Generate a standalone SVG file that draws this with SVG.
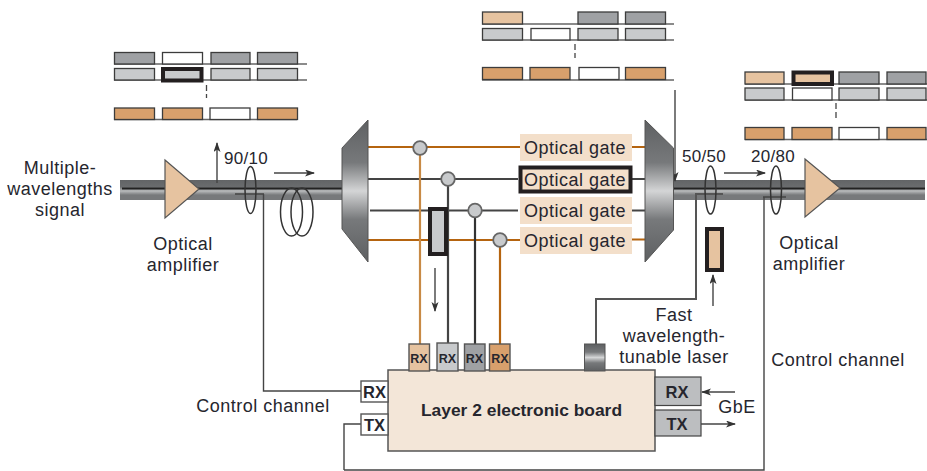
<svg xmlns="http://www.w3.org/2000/svg" width="927" height="471" viewBox="0 0 927 471">
<style>
text{font-family:"Liberation Sans",Arial,sans-serif;fill:#26262e;font-size:18px;letter-spacing:.5px;text-anchor:middle}
.b{font-weight:700;font-size:17.400px;letter-spacing:0}
.r{font-size:16.500px;font-weight:700;letter-spacing:0}
.c{font-size:17px;letter-spacing:.3px}
.s{font-size:12.500px;font-weight:700;letter-spacing:0}
.sl{stroke:#3c3c3c;stroke-width:1.3}
.ln{stroke:#666;stroke-width:1.5;fill:none}
.g1{fill:#9fa1a4}.g2{fill:#c8cacc}.w{fill:#fff}.o{fill:#d8a06c}.p{fill:#e6c3a0}
.thick{stroke:#231f20;stroke-width:4}
.br{stroke:#b5640f;stroke-width:2.2;fill:none}
.dk{stroke:#444;stroke-width:2.2;fill:none}
.wire{stroke:#444;stroke-width:1.4;fill:none}
.ring{fill:none;stroke:#333;stroke-width:1.5}
.gate{fill:#f3dfca}
.dot{fill:#c8cacc;stroke:#666;stroke-width:1.8}
.box{stroke:#555;stroke-width:1.4}
.dash{stroke:#444;stroke-width:1.3;stroke-dasharray:6 3;fill:none}
.amp{fill:#e6c3a0;stroke:#555;stroke-width:1.2}
</style>
<defs>
<linearGradient id="metal" x1="0" y1="0" x2="0" y2="1"><stop offset="0" stop-color="#5e6062"/><stop offset=".3" stop-color="#77797b"/><stop offset=".5" stop-color="#d4d5d6"/><stop offset=".7" stop-color="#77797b"/><stop offset="1" stop-color="#5e6062"/></linearGradient>
<linearGradient id="fiber" x1="0" y1="0" x2="0" y2="1"><stop offset="0" stop-color="#626466"/><stop offset=".35" stop-color="#6a6c6e"/><stop offset=".55" stop-color="#b8babb"/><stop offset=".75" stop-color="#77797b"/><stop offset="1" stop-color="#77797b"/></linearGradient>
<marker id="ah" markerWidth="10" markerHeight="8" refX="9" refY="3.5" orient="auto" markerUnits="userSpaceOnUse"><path d="M0 0L10 3.5L0 7L2.5 3.5Z" fill="#333"/></marker>
</defs>

<g id="fibers">
<rect x="120" y="180" width="222" height="20" fill="url(#fiber)"/>
<rect x="673" y="180" width="252" height="20" fill="url(#fiber)"/>
<path d="M122 188.500H342M673 188.500H925" stroke="#222" stroke-width="1.800" fill="none"/>
</g>

<g id="connectors">
<path class="br" d="M368 147H520M368 240H520M632 147H645M632 239.500H645"/>
<path class="dk" d="M368 179H518M370 210.500H518M632 179H645M632 210.500H645"/>
<path d="M420 148V345" stroke="#c88a45" stroke-width="2.200" fill="none"/>
<path class="dk" d="M448 179V345" stroke="#555"/>
<path d="M475 210V348" stroke="#333" stroke-width="2.200" fill="none"/>
<path class="br" d="M500 240V345"/>
<path class="wire" stroke-width="1.400" d="M235 194H264M263.500 194V391H361"/>
<path class="wire" d="M344 470V424H361M344 470H764V197M763 197H786"/>
<path d="M695 194H723M696 194V299H596V344" stroke="#555" stroke-width="2" fill="none"/>
<path class="wire" marker-end="url(#ah)" d="M217 183V143"/>
<path class="wire" marker-end="url(#ah)" d="M274 173H314"/>
<path class="wire" marker-end="url(#ah)" d="M435 268V311"/>
<path class="wire" marker-end="url(#ah)" d="M675 90V181"/>
<path class="wire" marker-end="url(#ah)" d="M724 173H765"/>
<path class="wire" marker-end="url(#ah)" d="M713 306V275"/>
<path class="wire" marker-end="url(#ah)" d="M735 392H702"/>
<path class="wire" marker-end="url(#ah)" d="M701 424H735"/>
</g>

<g id="slots-left">
<path class="ln" d="M114 64H307M114 80H307M114 119.500H297"/>
<g class="sl">
<rect class="g1" x="114.500" y="52.500" width="40" height="11.500"/><rect class="w" x="162.500" y="52.500" width="40" height="11.500"/><rect class="g1" x="211" y="52.500" width="39" height="11.500"/><rect class="g1" x="257.500" y="52.500" width="40" height="11.500"/>
<rect class="g2" x="114.500" y="68.500" width="40" height="11.500"/><rect class="g2" x="211" y="68.500" width="39" height="11.500"/><rect class="g2" x="257.500" y="68.500" width="40" height="11.500"/>
<rect class="o" x="114.500" y="108" width="40" height="11.500"/><rect class="o" x="162.500" y="108" width="40" height="11.500"/><rect class="w" x="210" y="108" width="40" height="11.500"/><rect class="o" x="257.500" y="108" width="40" height="11.500"/>
</g>
<rect class="g2 thick" x="163" y="69" width="38.500" height="11.500"/>
<path class="dash" d="M206.500 85V98"/>
</g>

<g id="slots-middle">
<path class="ln" d="M482 24H674M482 40H674M482 80H674"/>
<g class="sl">
<rect class="p" x="482.500" y="12" width="40" height="12"/><rect class="g1" x="578" y="12" width="40" height="12"/><rect class="g1" x="625.500" y="12" width="40" height="12"/>
<rect class="g2" x="482.500" y="28.500" width="40" height="11.500"/><rect class="w" x="531" y="28.500" width="39" height="11.500"/><rect class="g2" x="578" y="28.500" width="40" height="11.500"/><rect class="g2" x="625.500" y="28.500" width="40" height="11.500"/>
<rect class="o" x="482.500" y="67.500" width="40" height="12"/><rect class="o" x="530" y="67.500" width="40" height="12"/><rect class="w" x="579" y="67.500" width="40" height="12"/><rect class="o" x="625.500" y="67.500" width="40" height="12"/>
</g>
<path class="dash" d="M575 44V58"/>
</g>

<g id="slots-right">
<path class="ln" d="M745 84H927M745 100H927M745 139.500H927"/>
<g class="sl">
<rect class="p" x="745" y="72" width="39" height="12"/><rect class="g1" x="839" y="72" width="40" height="12"/><rect class="g1" x="887" y="72" width="39" height="12"/>
<rect class="g2" x="745" y="88" width="39" height="12"/><rect class="w" x="792.500" y="88" width="39.500" height="12"/><rect class="g2" x="839" y="88" width="40" height="12"/><rect class="g2" x="887" y="88" width="39" height="12"/>
<rect class="o" x="745" y="127.500" width="39" height="12"/><rect class="o" x="792" y="127.500" width="40" height="12"/><rect class="w" x="839" y="127.500" width="40" height="12"/><rect class="o" x="887" y="127.500" width="39" height="12"/>
</g>
<rect class="p thick" x="793.500" y="72.500" width="38.500" height="11.500"/>
<path class="dash" d="M836 103V118"/>
</g>

<g id="amp-in"><path class="amp" d="M165 160L199 189L165 218Z"/></g>
<g id="amp-out"><path class="amp" d="M805 159L840 188L805 217Z"/></g>

<g id="coupler-90-10"><ellipse class="ring" cx="250.500" cy="190" rx="5.500" ry="23.500"/><text class="c" x="246" y="164">90/10</text></g>
<g id="fiber-coil"><ellipse class="ring" cx="291.500" cy="212" rx="11" ry="24"/><ellipse class="ring" cx="302" cy="212" rx="11" ry="24"/></g>
<g id="coupler-50-50"><ellipse class="ring" cx="710.500" cy="190" rx="5.500" ry="24"/><text class="c" x="704" y="162">50/50</text></g>
<g id="coupler-20-80"><ellipse class="ring" cx="776" cy="190" rx="5.500" ry="24"/><text class="c" x="773" y="162">20/80</text></g>

<g id="demux"><path d="M342 148L368 120V262L342 229Z" fill="url(#metal)" stroke="#555" stroke-width="1"/></g>
<g id="mux"><path d="M645 120L673.500 148V230L645 262Z" fill="url(#metal)" stroke="#555" stroke-width="1"/></g>

<g id="taps">
<circle class="dot" cx="420" cy="148" r="6.800"/><circle class="dot" cx="448" cy="179" r="6.800"/><circle class="dot" cx="475" cy="210.500" r="6.800"/><circle class="dot" cx="500" cy="240" r="6.800"/>
</g>
<g id="filter"><rect class="g2 thick" x="430" y="209" width="16" height="45"/></g>

<g id="gate-1"><rect class="gate" x="520" y="134" width="112" height="27"/><text x="575" y="153.500">Optical gate</text></g>
<g id="gate-2"><rect class="gate thick" x="520.500" y="167.500" width="110" height="24"/><text x="575" y="185.500">Optical gate</text></g>
<g id="gate-3"><rect class="gate" x="520" y="197" width="112" height="27"/><text x="575" y="216.500">Optical gate</text></g>
<g id="gate-4"><rect class="gate" x="520" y="227" width="112" height="27"/><text x="575" y="246.500">Optical gate</text></g>

<g id="tunable-filter"><rect class="p thick" x="707" y="229" width="15" height="41"/></g>

<g id="board"><rect x="388" y="370" width="267" height="81" fill="#f3e6d8" stroke="#555" stroke-width="1.500"/><text class="b" x="521.500" y="416">Layer 2 electronic board</text></g>
<g id="rx-1"><rect class="p box" x="409" y="344" width="20.500" height="27"/><text class="s" x="419" y="363">RX</text></g>
<g id="rx-2"><rect class="g2 box" x="437" y="343" width="21" height="28"/><text class="s" x="447.500" y="363">RX</text></g>
<g id="rx-3"><rect class="g1 box" x="464.500" y="344" width="20.500" height="27"/><text class="s" x="474.500" y="363">RX</text></g>
<g id="rx-4"><rect class="o box" x="489.500" y="344" width="20.500" height="27"/><text class="s" x="500" y="363">RX</text></g>
<g id="laser"><rect x="584.500" y="344" width="20.500" height="27" fill="url(#metal)" stroke="#555"/></g>
<g id="ctrl-rx"><rect class="w box" x="361" y="381" width="27" height="21"/><text class="r" x="374.500" y="398">RX</text></g>
<g id="ctrl-tx"><rect class="w box" x="361" y="414" width="27" height="21"/><text class="r" x="374.500" y="430.500">TX</text></g>
<g id="gbe-rx"><rect x="655" y="377" width="46" height="28.500" fill="#bcbec0" stroke="#444" stroke-width="1.200"/><text class="r" x="677" y="397.500">RX</text></g>
<g id="gbe-tx"><rect x="655" y="410" width="46" height="26" fill="#bcbec0" stroke="#444" stroke-width="1.200"/><text class="r" x="677" y="430">TX</text></g>

<g id="labels">
<text x="60" y="174">Multiple-</text><text x="60" y="195">wavelengths</text><text x="60" y="216">signal</text>
<text x="183" y="250">Optical</text><text x="183" y="271">amplifier</text>
<text x="809" y="249">Optical</text><text x="809" y="270">amplifier</text>
<text x="674" y="321">Fast</text><text x="674" y="342">wavelength-</text><text x="674" y="363">tunable laser</text>
<text x="263" y="412">Control channel</text><text x="838" y="366">Control channel</text>
<text x="737" y="413">GbE</text>
</g>
</svg>
